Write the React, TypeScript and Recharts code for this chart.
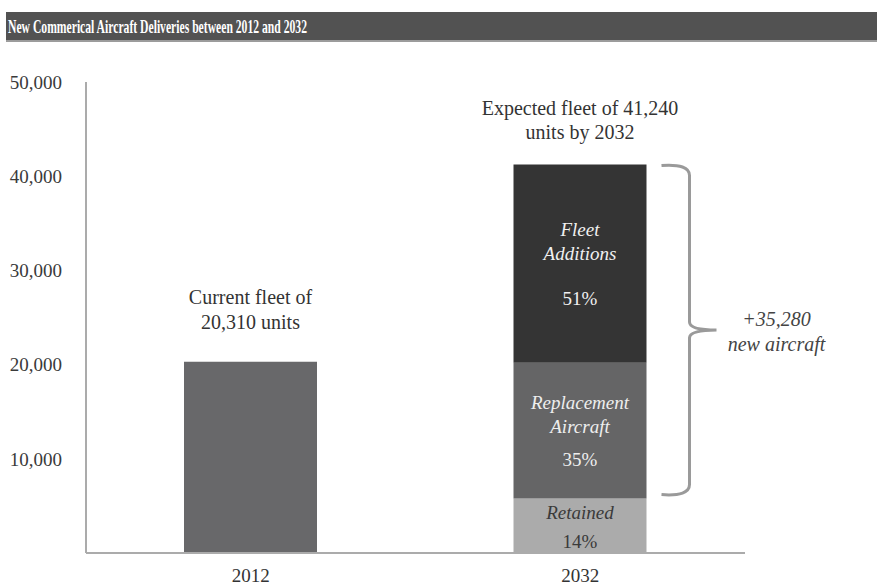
import React from 'react';
import { BarChart, Bar, XAxis, YAxis, LabelList } from 'recharts';

const categories = ['2012', '2032'];
const currentFleet = [20310, null];
const retained = [null, 5774];
const replacement = [null, 14434];
const additions = [null, 21032];
const yTicks = [10000, 20000, 30000, 40000, 50000];
const topNotes = [
  ['Current fleet of', '20,310 units'],
  ['Expected fleet of 41,240', 'units by 2032'],
];
const additionsText = ['Fleet', 'Additions', '51%'];
const replacementText = ['Replacement', 'Aircraft', '35%'];
const retainedText = ['Retained', '14%'];
const newAircraftText = ['+35,280', 'new aircraft'];
const titleText = 'New Commerical Aircraft Deliveries between 2012 and 2032';

const data = categories.map((c, i) => ({
  name: c,
  current: currentFleet[i],
  retained: retained[i],
  replacement: replacement[i],
  additions: additions[i],
}));

const FONT = '"Liberation Serif", "Times New Roman", serif';
const fmt = (v: number) => v.toLocaleString('en-US');

const topOffsets = [
  [-65, -40],
  [-57, -33],
];

const renderTopNote = (props: any, noteIdx: number) => {
  const { x, y, width } = props;
  const lines = topNotes[noteIdx];
  const cx = x + width / 2;
  return (
    <g>
      {lines.map((t, k) => (
        <text key={k} x={cx} y={y + topOffsets[noteIdx][k]} textAnchor="middle" dominantBaseline="central"
          fontFamily={FONT} fontSize={20} fill="#333">{t}</text>
      ))}
    </g>
  );
};

const CurrentLabel = (props: any) => {
  if (props.value == null || props.x == null) return null;
  return renderTopNote(props, 0);
};

const makeInner = (lines: string[], offs: number[], color: string, italicIdx: number[]) => (props: any) => {
  const { x, y, width, height, value } = props;
  if (value == null || x == null) return null;
  const cx = x + width / 2;
  const cy = y + height / 2;
  return (
    <g>
      {lines.map((t, k) => (
        <text key={k} x={cx} y={cy + offs[k]} textAnchor="middle" dominantBaseline="central"
          fontFamily={FONT} fontSize={19} fill={color}
          fontStyle={italicIdx.includes(k) ? 'italic' : 'normal'}>{t}</text>
      ))}
    </g>
  );
};

const AdditionsInner = makeInner(additionsText, [-34, -10, 35], '#f0f0f0', [0, 1]);
const ReplacementInner = makeInner(replacementText, [-28, -4, 29], '#eeeeee', [0, 1]);
const RetainedInner = makeInner(retainedText, [-13, 16], '#3a3a3a', [0]);

const AdditionsLabel = (props: any) => {
  const { x, y, width, height, value } = props;
  if (value == null || x == null) return null;
  const i = additions.indexOf(value);
  const inner = AdditionsInner(props);
  const top = y + 1;
  const bot = y + height * (1 + (replacement[i] as number) / (additions[i] as number)) - 4;
  const mid = (top + bot) / 2;
  const x0 = x + width + 15;
  const x1 = x0 + 28;
  const tip = x0 + 55;
  const d = `M ${x0} ${top} Q ${x1} ${top - 2} ${x1} ${top + 10} L ${x1} ${mid - 8} Q ${x1} ${mid} ${tip} ${mid} ` +
    `Q ${x1} ${mid} ${x1} ${mid + 8} L ${x1} ${bot - 10} Q ${x1} ${bot + 2} ${x0} ${bot}`;
  const tx = tip + 60;
  return (
    <g>
      {inner}
      <path d={d} fill="none" stroke="#9a9a9a" strokeWidth={3} />
      <text x={tx} y={mid - 11} textAnchor="middle" dominantBaseline="central" fontFamily={FONT}
        fontSize={20} fontStyle="italic" fill="#444">{newAircraftText[0]}</text>
      <text x={tx} y={mid + 14} textAnchor="middle" dominantBaseline="central" fontFamily={FONT}
        fontSize={20} fontStyle="italic" fill="#444">{newAircraftText[1]}</text>
      {renderTopNote(props, 1)}
    </g>
  );
};

export default function App() {
  return (
    <div style={{ position: 'absolute', left: 0, top: 0, width: 877, height: 588, background: '#fff' }}>
      <svg width={877} height={45} style={{ position: 'absolute', left: 0, top: 0 }}>
        <rect x={6} y={12} width={871} height={29} fill="#525252" />
        <rect x={6} y={40} width={871} height={2} fill="#9c9c9c" />
        <text x={8} y={32.5} fontFamily={FONT} fontWeight="bold" fontSize={19} fill="#fff"
          textLength={299} lengthAdjust="spacingAndGlyphs">{titleText}</text>
      </svg>
      <div style={{ position: 'absolute', left: 0, top: 0 }}>
        <BarChart width={877} height={588} data={data} margin={{ top: 82, right: 132, bottom: 5, left: 0 }}
          barCategoryGap={0}>
          <XAxis dataKey="name" tickLine={false} axisLine={{ stroke: '#ababab', strokeWidth: 2 }} height={30}
            tickMargin={10} tick={{ fontFamily: FONT, fontSize: 19, fill: '#333' }} />
          <YAxis type="number" domain={[0, 50000]} ticks={yTicks} tickFormatter={fmt} width={86}
            tickLine={false} axisLine={{ stroke: '#ababab', strokeWidth: 2 }} tickMargin={18}
            tick={{ fontFamily: FONT, fontSize: 19, fill: '#3a3a3a' }} />
          <Bar dataKey="current" stackId="a" fill="#68686a" barSize={133} isAnimationActive={false}>
            <LabelList dataKey="current" content={CurrentLabel} />
          </Bar>
          <Bar dataKey="retained" stackId="a" fill="#ababab" barSize={133} isAnimationActive={false}>
            <LabelList dataKey="retained" content={RetainedInner} />
          </Bar>
          <Bar dataKey="replacement" stackId="a" fill="#656566" barSize={133} isAnimationActive={false}>
            <LabelList dataKey="replacement" content={ReplacementInner} />
          </Bar>
          <Bar dataKey="additions" stackId="a" fill="#343434" barSize={133} isAnimationActive={false}>
            <LabelList dataKey="additions" content={AdditionsLabel} />
          </Bar>
        </BarChart>
      </div>
    </div>
  );
}
